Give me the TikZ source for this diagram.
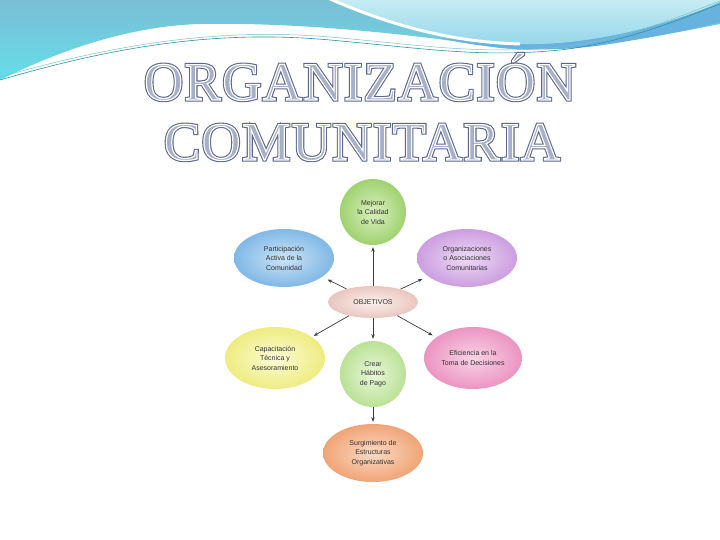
\documentclass[tikz,border=0pt]{standalone}
\usepackage{fontspec}
\newfontfamily\titlefont[LetterSpace=3]{Liberation Serif}
\newfontfamily\nodefont{Liberation Sans}
\usetikzlibrary{shapes.geometric,arrows.meta,calc}
\definecolor{tealA}{RGB}{122,190,212}
\definecolor{tealB}{RGB}{100,222,234}
\definecolor{cyanB}{RGB}{172,228,238}
\definecolor{cyanC}{RGB}{150,214,234}
\definecolor{blueband}{RGB}{104,178,224}
\definecolor{thinline}{RGB}{40,150,165}
\definecolor{titlefill}{RGB}{168,176,200}
\definecolor{txt}{RGB}{50,50,50}
\definecolor{arrc}{RGB}{60,60,60}
\newcommand\outlinedark[1]{\special{pdf:code 2 Tr 3.4 w 0.36 0.40 0.56 RG}#1\special{pdf:code 0 Tr}}
\newcommand\outlinewhite[1]{\special{pdf:code 2 Tr 1.2 w 1 1 1 RG}#1\special{pdf:code 0 Tr}}
\begin{document}
\begin{tikzpicture}[x=1pt,y=-1pt,
  titlenode/.style={anchor=base,inner sep=0pt,text=titlefill,font=\titlefont\fontsize{54}{54}\selectfont},
  bubble/.style={ellipse,minimum width=100pt,minimum height=58pt,inner sep=0pt,align=center,
    font=\nodefont\fontsize{7}{9.5}\selectfont,text=txt,shading=radial},
  roundb/.style={circle,minimum size=66pt,inner sep=0pt,align=center,
    font=\nodefont\fontsize{7}{9.5}\selectfont,text=txt,shading=radial},
  arr/.style={draw=arrc,line width=0.7pt,-{Stealth[length=4.5pt,width=3.5pt]},shorten >=2pt}]
\useasboundingbox (0,0) rectangle (720,540);
\fill[white] (0,0) rectangle (720,540);
% top waves
\shade[top color=tealA,bottom color=tealB]
  (0,0) -- (720,0) -- (720,24) .. controls (660,36) and (560,55) .. (500,48)
  .. controls (420,35) and (300,22) .. (200,24) .. controls (130,26) and (60,50) .. (0,80) -- cycle;
\fill[blueband] (440,38) .. controls (500,52) and (560,52) .. (610,44)
  .. controls (660,36) and (700,28) .. (720,22) -- (720,2)
  .. controls (680,20) and (600,46) .. (520,44) .. controls (490,43) and (465,41) .. (440,38) -- cycle;
\shade[top color=cyanB!70!white,bottom color=cyanC]
  (332,0) .. controls (390,25) and (450,42) .. (520,44) .. controls (600,46) and (680,20) .. (720,2) -- (720,0) -- cycle;
\draw[white,line width=3pt] (330,-1) .. controls (390,25) and (450,42) .. (520,44);
\draw[thinline,line width=0.6pt] (0,80) .. controls (120,45) and (220,30) .. (330,40)
  .. controls (420,48) and (480,58) .. (560,50) .. controls (630,42) and (690,15) .. (720,4);
\draw[thinline!60!white,line width=0.5pt] (0,77) .. controls (120,43) and (220,28) .. (330,37)
  .. controls (420,45) and (480,55) .. (560,47) .. controls (630,39) and (690,12) .. (720,1);
% title
\node[titlenode] (t1s) at (360,100) {\outlinedark{ORGANIZACIÓN}};
\node[titlenode] (t1) at (360,100) {\outlinewhite{ORGANIZACIÓN}};
\node[titlenode] (t2s) at (362,160) {\outlinedark{COMUNITARIA}};
\node[titlenode] (t2) at (362,160) {\outlinewhite{COMUNITARIA}};
% diagram
\node[roundb,inner color={rgb,255:red,218;green,240;blue,192},outer color={rgb,255:red,160;green,210;blue,112}]
  (top) at (373,212) {Mejorar\\la Calidad\\de Vida};
\node[bubble,inner color={rgb,255:red,205;green,228;blue,246},outer color={rgb,255:red,128;green,184;blue,230}]
  (blue) at (284,258) {Participación\\Activa de la\\Comunidad};
\node[bubble,inner color={rgb,255:red,238;green,218;blue,246},outer color={rgb,255:red,204;green,158;blue,224}]
  (purple) at (467,258) {Organizaciones\\o Asociaciones\\Comunitarias};
\node[bubble,minimum width=90pt,minimum height=32pt,inner color={rgb,255:red,250;green,240;blue,236},outer color={rgb,255:red,234;green,198;blue,192}]
  (obj) at (373,302) {OBJETIVOS};
\node[bubble,minimum height=62pt,inner color={rgb,255:red,252;green,252;blue,214},outer color={rgb,255:red,238;green,236;blue,128}]
  (yellow) at (275,358) {Capacitación\\Técnica y\\Asesoramiento};
\node[bubble,minimum width=98pt,minimum height=62pt,inner color={rgb,255:red,248;green,212;blue,230},outer color={rgb,255:red,236;green,148;blue,194}]
  (pink) at (473,358) {Eficiencia en la\\Toma de Decisiones};
\node[roundb,inner color={rgb,255:red,234;green,246;blue,218},outer color={rgb,255:red,186;green,226;blue,150}]
  (mid) at (373,374) {Crear\\Hábitos\\de Pago};
\node[bubble,inner color={rgb,255:red,252;green,218;blue,196},outer color={rgb,255:red,240;green,164;blue,118}]
  (orange) at (373,453) {Surgimiento de\\Estructuras\\Organizativas};
% connectors
\draw[arr] (obj) -- (top);
\draw[arr,shorten >=6pt] (obj) -- (blue);
\draw[arr,shorten >=6pt] (obj) -- (purple);
\draw[arr,shorten >=2pt] (obj) -- (yellow);
\draw[arr,shorten >=4pt] (obj) -- (pink);
\draw[arr] (obj) -- (mid);
\draw[arr] (mid) -- (orange);
\end{tikzpicture}
\end{document}
